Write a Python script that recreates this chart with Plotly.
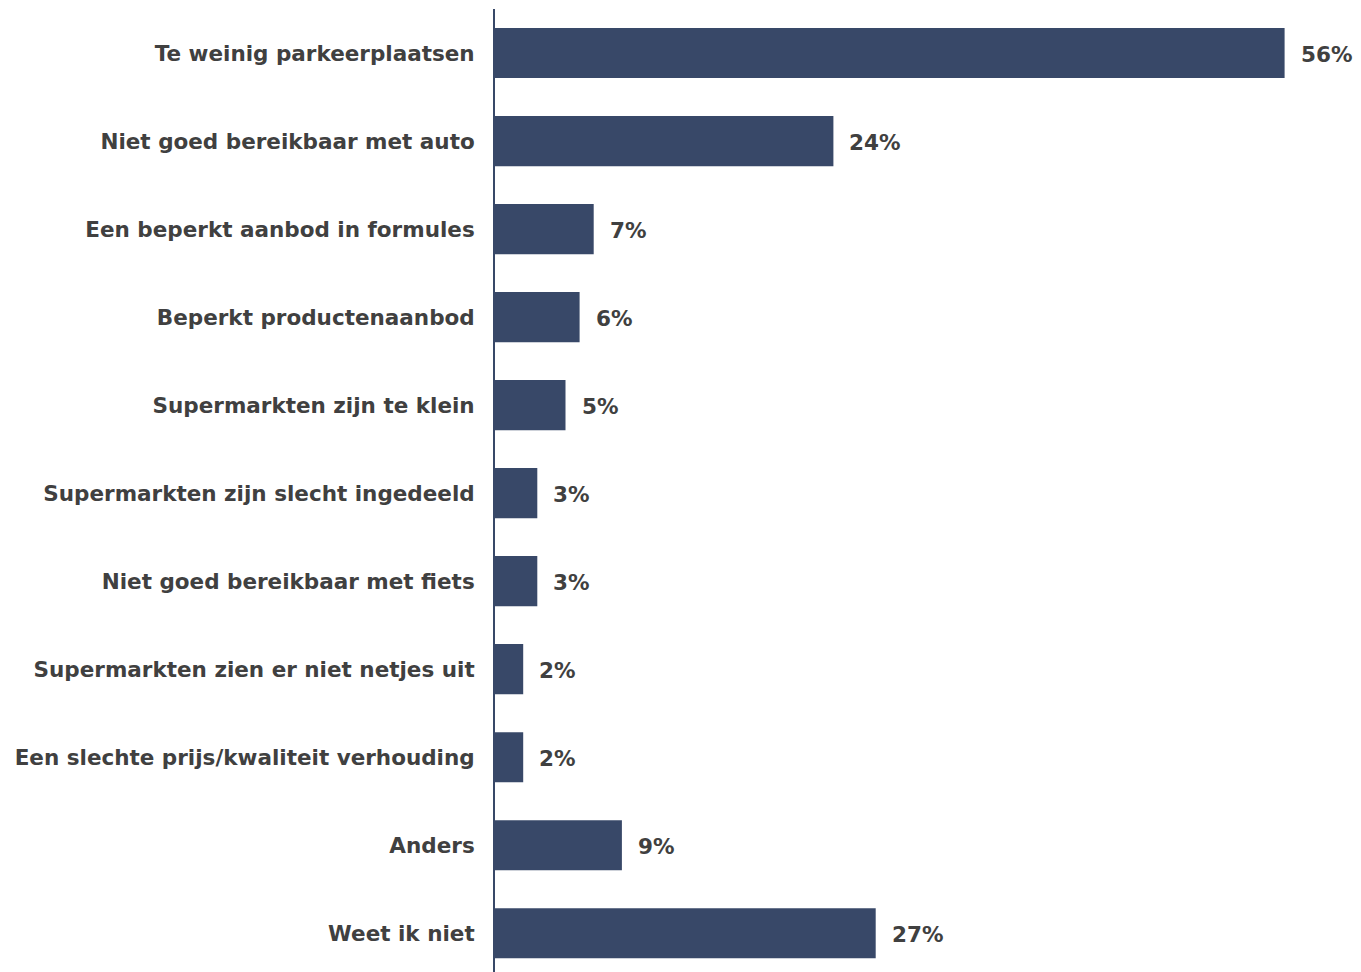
import plotly.graph_objects as go

# Redenen om niet in het centrum boodschappen te doen (aandeel respondenten, %)
categories = [
    "Te weinig parkeerplaatsen",
    "Niet goed bereikbaar met auto",
    "Een beperkt aanbod in formules",
    "Beperkt productenaanbod",
    "Supermarkten zijn te klein",
    "Supermarkten zijn slecht ingedeeld",
    "Niet goed bereikbaar met fiets",
    "Supermarkten zien er niet netjes uit",
    "Een slechte prijs/kwaliteit verhouding",
    "Anders",
    "Weet ik niet",
]
values = [56, 24, 7, 6, 5, 3, 3, 2, 2, 9, 27]
value_labels = [f"{v}%" for v in values]

BAR = "#384868"
TEXT = "#404040"
FONT = "Verdana, DejaVu Sans, sans-serif"
SIZE = 21.5

fig = go.Figure(
    go.Bar(
        x=values,
        y=categories,
        orientation="h",
        marker=dict(color=BAR, line=dict(width=0)),
        width=0.57,
        hoverinfo="x+y",
    )
)

# Percentage labels placed just right of each bar end
for cat, v, lab in zip(categories, values, value_labels):
    fig.add_annotation(
        x=v,
        y=cat,
        text=lab,
        showarrow=False,
        xanchor="left",
        yanchor="middle",
        xshift=14,
        yshift=-1,
        font=dict(family=FONT, size=SIZE, color=TEXT, weight="bold"),
    )

fig.update_layout(
    width=1361,
    height=972,
    margin=dict(l=495, r=20, t=9, b=0, pad=0),
    paper_bgcolor="white",
    plot_bgcolor="white",
    showlegend=False,
    font=dict(family=FONT, size=SIZE, color=TEXT),
)
fig.update_xaxes(
    range=[0, 60],
    visible=False,
    showgrid=False,
    zeroline=False,
)
fig.update_yaxes(
    type="category",
    range=[10.44, -0.5],
    showgrid=False,
    zeroline=False,
    showline=True,
    linecolor=BAR,
    linewidth=2,
    ticks="",
    ticklabelstandoff=14,
    tickfont=dict(family=FONT, size=SIZE, color=TEXT, weight="bold"),
)

fig.write_html("out.html")
